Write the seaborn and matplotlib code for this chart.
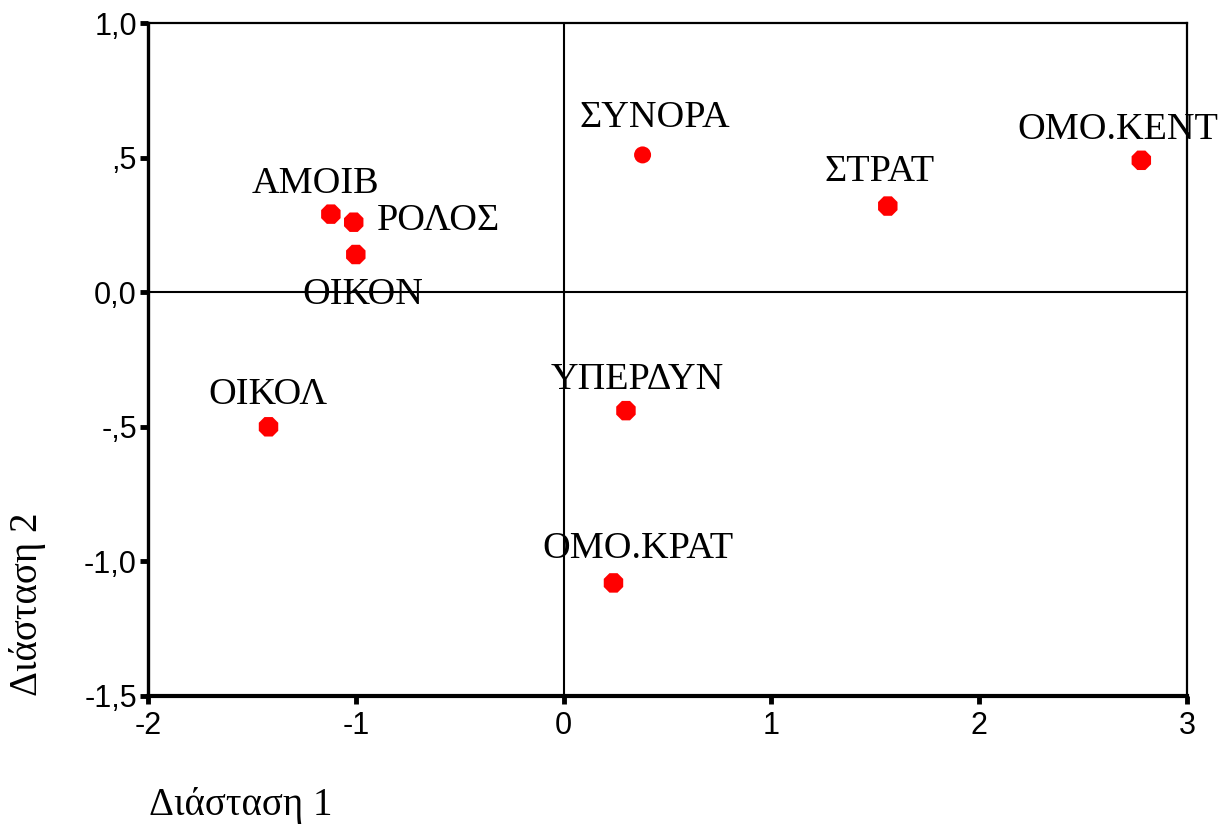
import pandas as pd
import matplotlib
matplotlib.use("Agg")
import matplotlib.pyplot as plt
import matplotlib.ticker as ticker
import seaborn as sns

# values
labels = ["ΣΥΝΟΡΑ", "ΟΜΟ.ΚΕΝΤ", "ΣΤΡΑΤ", "ΑΜΟΙΒ", "ΡΟΛΟΣ",
          "ΟΙΚΟΝ", "ΟΙΚΟΛ", "ΥΠΕΡΔΥΝ", "ΟΜΟ.ΚΡΑΤ"]
dim1 = [0.38, 2.78, 1.56, -1.12, -1.01, -1.00, -1.42, 0.30, 0.24]
dim2 = [0.51, 0.49, 0.32, 0.29, 0.26, 0.14, -0.50, -0.44, -1.08]

x_ticks = [-2, -1, 0, 1, 2, 3]
x_tick_labels = ["-2", "-1", "0", "1", "2", "3"]
y_ticks = [1.0, 0.5, 0.0, -0.5, -1.0, -1.5]
y_tick_labels = ["1,0", ",5", "0,0", "-,5", "-1,0", "-1,5"]

# label offsets in pixels (dx, dy of text anchor/baseline from the point)
label_offsets = {
    "ΣΥΝΟΡΑ": (12, 28, "center"),
    "ΟΜΟ.ΚΕΝΤ": (-24, 21, "center"),
    "ΣΤΡΑΤ": (-8, 25, "center"),
    "ΑΜΟΙΒ": (-15, 21, "center"),
    "ΡΟΛΟΣ": (23, -8, "left"),
    "ΟΙΚΟΝ": (7, -49, "center"),
    "ΟΙΚΟΛ": (-1, 23, "center"),
    "ΥΠΕΡΔΥΝ": (11, 22, "center"),
    "ΟΜΟ.ΚΡΑΤ": (24, 25, "center"),
}

SERIF = ["Liberation Serif", "DejaVu Serif"]


def main():
    sns.set_style("white")
    plt.rcParams["font.family"] = ["Liberation Sans", "DejaVu Sans"]
    plt.rcParams["text.color"] = "black"

    df = pd.DataFrame({"label": labels, "d1": dim1, "d2": dim2})
    df["round"] = df["label"] == "ΣΥΝΟΡΑ"

    fig = plt.figure(figsize=(12.23, 8.25), dpi=100)
    ax = fig.add_axes([0.121, 0.1564, 0.8496, 0.8157])

    ax.axhline(0, color="black", lw=1.5, zorder=1)
    ax.axvline(0, color="black", lw=1.5, zorder=1)

    sns.scatterplot(data=df[~df["round"]], x="d1", y="d2", marker="8",
                    s=230, color="#ff0000", edgecolor="none", ax=ax, zorder=3)
    sns.scatterplot(data=df[df["round"]], x="d1", y="d2", marker="o",
                    s=150, color="#ff0000", edgecolor="none", ax=ax, zorder=3)

    for _, row in df.iterrows():
        dx, dy, ha = label_offsets[row["label"]]
        ax.annotate(row["label"], (row["d1"], row["d2"]),
                    xytext=(dx, dy), textcoords="offset pixels",
                    ha=ha, va="baseline", fontsize=27.5, color="black",
                    family=SERIF, zorder=4)

    ax.set_xlim(-2, 3)
    ax.set_ylim(-1.5, 1.0)
    ax.xaxis.set_major_locator(ticker.FixedLocator(x_ticks))
    ax.set_xticklabels(x_tick_labels)
    ax.yaxis.set_major_locator(ticker.FixedLocator(y_ticks))
    ax.set_yticklabels(y_tick_labels)
    ax.tick_params(axis="both", direction="out", length=6, width=3.5,
                   labelsize=22, colors="black", bottom=True, left=True)
    ax.tick_params(axis="x", pad=5)
    ax.tick_params(axis="y", pad=2)
    ax.set_xlabel("")
    ax.set_ylabel("")

    for side, lw in [("left", 2.4), ("bottom", 3.0), ("top", 1.6), ("right", 1.6)]:
        ax.spines[side].set_visible(True)
        ax.spines[side].set_color("black")
        ax.spines[side].set_linewidth(lw)

    fig.text(241 / 1223, 1 - 805 / 825, "Διάσταση 1", fontsize=28,
             ha="center", va="center", family=SERIF, color="black")
    fig.text(28 / 1223, 1 - 604 / 825, "Διάσταση 2", fontsize=28, rotation=90,
             ha="center", va="center", family=SERIF, color="black")

    fig.savefig("out.png", dpi=100, facecolor="white")


if __name__ == "__main__":
    main()
